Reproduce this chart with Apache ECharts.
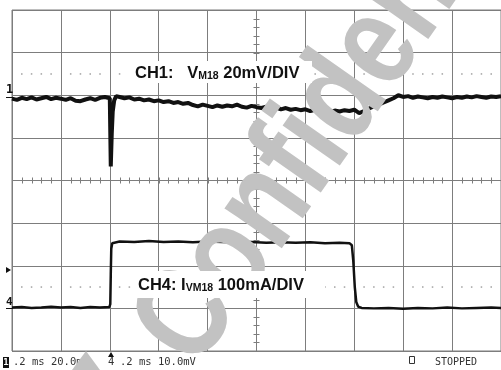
<!DOCTYPE html>
<html>
<head>
<meta charset="utf-8">
<script src="https://cdn.jsdelivr.net/npm/echarts@6/dist/echarts.min.js"></script>
<style>
html,body{margin:0;padding:0;background:#fff;}
#c{width:501px;height:370px;}
</style>
</head>
<body>
<div id="c"></div>
<script>
// Time in screen divisions (0.2 ms/div), levels in vertical divisions
var ch1T = [0.0,0.1,0.2,0.3,0.4,0.5,0.6,0.7,0.8,0.9,1.0,1.1,1.2,1.3,1.4,1.5,1.6,1.7,1.8,1.9,2.0,
  2.02,2.04,2.06,2.09,2.13,
  2.2,2.3,2.4,2.5,2.6,2.7,2.8,2.9,3.0,3.1,3.2,3.3,3.4,3.5,3.6,3.7,3.8,3.9,4.0,4.1,4.2,4.3,4.4,4.5,4.6,4.7,4.8,4.9,
  5.0,5.1,5.2,5.3,5.4,5.5,5.6,5.7,5.8,5.9,6.0,6.1,6.2,6.3,6.4,6.5,6.6,6.7,6.8,6.9,7.0,
  7.05,7.1,7.2,7.3,7.4,7.5,7.6,7.7,7.8,7.9,8.0,8.1,8.2,8.3,8.4,8.5,8.6,8.7,8.8,8.9,9.0,9.1,9.2,9.3,9.4,9.5,9.6,9.7,9.8,9.9,10.0];
var ch1V = [1.92,1.89,1.94,1.91,1.95,1.90,1.93,1.96,1.91,1.94,1.92,1.89,1.93,1.87,1.86,1.90,1.93,1.89,1.94,1.96,1.93,
  0.33,1.10,1.62,1.88,1.98,
  1.96,1.93,1.95,1.90,1.92,1.88,1.90,1.86,1.88,1.84,1.86,1.82,1.84,1.80,1.82,1.77,1.74,1.78,1.75,1.72,1.76,1.73,1.76,1.74,1.78,1.73,1.71,1.75,
  1.72,1.70,1.73,1.69,1.71,1.67,1.70,1.66,1.68,1.65,1.67,1.63,1.66,1.62,1.64,1.61,1.64,1.62,1.65,1.63,1.66,
  1.62,1.58,1.63,1.69,1.74,1.78,1.83,1.88,1.93,2.00,1.96,1.98,1.94,1.97,1.95,1.93,1.96,1.94,1.97,1.95,1.93,1.96,1.94,1.97,1.95,1.98,1.96,1.94,1.97,1.96,1.98];

var ch4T = [0.0,0.2,0.4,0.6,0.8,1.0,1.2,1.4,1.6,1.8,1.99,
  2.01,2.02,2.03,2.05,2.08,
  2.2,2.5,2.8,3.1,3.4,3.7,4.0,4.3,4.6,4.9,5.2,5.5,5.8,6.1,6.4,6.7,6.9,
  6.95,6.98,7.01,7.04,7.08,7.15,
  7.4,7.7,8.0,8.3,8.6,8.9,9.2,9.5,9.8,10.0];
var ch4I = [-2.98,-2.97,-2.99,-2.98,-2.96,-2.98,-2.97,-2.99,-2.97,-2.98,-2.97,
  -2.9,-2.2,-1.6,-1.47,-1.44,
  -1.43,-1.44,-1.42,-1.44,-1.43,-1.45,-1.43,-1.44,-1.45,-1.44,-1.46,-1.45,-1.46,-1.45,-1.47,-1.46,-1.47,
  -1.52,-1.9,-2.5,-2.85,-2.96,-2.99,
  -3.0,-2.99,-3.01,-2.99,-3.0,-2.98,-3.0,-2.99,-2.98,-2.99];

var ch1Label = ['CH1:', 'V', 'M18', '20mV/DIV'];
var ch4Label = ['CH4:', 'I', 'VM18', '100mA/DIV'];
var status1 = '.2 ms 20.0mV';
var status4 = '.2 ms 10.0mV';
var statusRun = 'STOPPED';
var watermark = 'Confidential';
var dottedLevels = [2.5, -2.5];

function pairs(t, v) { return t.map(function (x, i) { return [x, v[i]]; }); }

// minor graticule tick positions along the centre axes
var minorX = [], minorY = [], dots = [];
for (var i = 0; i <= 50; i++) minorX.push([i / 5, 0]);
for (var j = 0; j <= 40; j++) minorY.push([0, j / 5 - 4]);
dottedLevels.forEach(function (lv) {
  for (var k = 0; k < 50; k++) { if (k % 5 !== 0) dots.push([k / 5, lv]); }
});

var GRID = '#7d7d7d';
var WM = '#c2c2c2';
var LBL = 'bold 16.5px "Liberation Sans", Arial, sans-serif';
var SUB = 'bold 10.5px "Liberation Sans", Arial, sans-serif';
var MONO = '10.5px "DejaVu Sans Mono", monospace';
var chart = echarts.init(document.getElementById('c'), null, {renderer: 'canvas'});
var option = {
  animation: false,
  backgroundColor: '#ffffff',
  grid: {left: 12, top: 10, width: 493, height: 341, show: true, borderColor: GRID, borderWidth: 1},
  xAxis: {type: 'value', min: 0, max: 10, interval: 1,
    axisLine: {show: false}, axisTick: {show: false}, axisLabel: {show: false},
    splitLine: {show: true, lineStyle: {color: GRID, width: 1}}},
  yAxis: {type: 'value', min: -4, max: 4, interval: 1,
    axisLine: {show: false}, axisTick: {show: false}, axisLabel: {show: false},
    splitLine: {show: true, lineStyle: {color: GRID, width: 1}}},
  series: [
    {type: 'custom', silent: true, data: minorX, z: 1,
      renderItem: function (params, api) {
        var p = api.coord([api.value(0), api.value(1)]);
        var x = Math.round(p[0]) + 0.5;
        return {type: 'line', shape: {x1: x, y1: p[1] - 3, x2: x, y2: p[1] + 3}, style: {stroke: GRID, lineWidth: 1}};
      }},
    {type: 'custom', silent: true, data: minorY, z: 1,
      renderItem: function (params, api) {
        var p = api.coord([5, api.value(1)]);
        var y = Math.round(p[1]) + 0.5;
        return {type: 'line', shape: {x1: p[0] - 3, y1: y, x2: p[0] + 3, y2: y}, style: {stroke: GRID, lineWidth: 1}};
      }},
    {type: 'scatter', silent: true, data: dots, symbol: 'rect', symbolSize: 1.5, z: 1,
      itemStyle: {color: '#8a8a8a'}},
    {type: 'line', data: pairs(ch1T, ch1V), showSymbol: false, z: 3,
      lineStyle: {color: '#111', width: 4}},
    {type: 'line', data: pairs(ch4T, ch4I), showSymbol: false, z: 3,
      lineStyle: {color: '#111', width: 2.5}}
  ],
  graphic: [
    {type: 'text', z: 100, x: 166, y: 350, rotation: 55 * Math.PI / 180, scaleX: 0.81, scaleY: 1,
      style: {text: watermark, font: 'bold 132px "Liberation Sans", Arial, sans-serif', fill: WM,
        align: 'left', verticalAlign: 'middle'}},
    {type: 'rect', z: 110, shape: {x: 128, y: 61, width: 184, height: 22}, style: {fill: '#fff'}},
    {type: 'text', z: 111, x: 135, y: 72,
      style: {text: '{b|' + ch1Label[0] + '   ' + ch1Label[1] + '}{s|' + ch1Label[2] + '}{b| ' + ch1Label[3] + '}',
        verticalAlign: 'middle', align: 'left',
        rich: {b: {font: LBL, fill: '#111', lineHeight: 19, verticalAlign: 'bottom'},
               s: {font: SUB, fill: '#111', lineHeight: 19, verticalAlign: 'bottom'}}}},
    {type: 'rect', z: 110, shape: {x: 131, y: 271, width: 194, height: 27}, style: {fill: '#fff'}},
    {type: 'text', z: 111, x: 138, y: 284,
      style: {text: '{b|' + ch4Label[0] + ' ' + ch4Label[1] + '}{s|' + ch4Label[2] + '}{b| ' + ch4Label[3] + '}',
        verticalAlign: 'middle', align: 'left',
        rich: {b: {font: LBL, fill: '#111', lineHeight: 19, verticalAlign: 'bottom'},
               s: {font: SUB, fill: '#111', lineHeight: 19, verticalAlign: 'bottom'}}}},
    // left reference markers
    {type: 'text', z: 50, x: 6, y: 90, style: {text: '1', font: 'bold 12px "DejaVu Sans Mono", monospace', fill: '#111', verticalAlign: 'middle'}},
    {type: 'line', z: 50, shape: {x1: 6, y1: 97.5, x2: 13, y2: 97.5}, style: {stroke: '#111', lineWidth: 1}},
    {type: 'text', z: 50, x: 6, y: 302, style: {text: '4', font: 'bold 11px "DejaVu Sans Mono", monospace', fill: '#111', verticalAlign: 'middle'}},
    {type: 'line', z: 50, shape: {x1: 6, y1: 308.5, x2: 13, y2: 308.5}, style: {stroke: '#111', lineWidth: 1}},
    {type: 'polygon', z: 50, shape: {points: [[6, 267], [11, 270], [6, 273]]}, style: {fill: '#111'}},
    // bottom status line
    {type: 'rect', z: 50, shape: {x: 3, y: 357, width: 6, height: 11}, style: {fill: '#111'}},
    {type: 'text', z: 51, x: 3.2, y: 362.5, style: {text: '1', font: 'bold 9px "DejaVu Sans Mono", monospace', fill: '#fff', verticalAlign: 'middle'}},
    {type: 'text', z: 50, x: 13, y: 362.5, style: {text: status1, font: MONO, fill: '#333', verticalAlign: 'middle'}},
    {type: 'polygon', z: 50, shape: {points: [[108, 357], [111, 352], [114, 357]]}, style: {fill: '#111'}},
    {type: 'text', z: 50, x: 108, y: 362.5, style: {text: '4', font: MONO, fill: '#333', verticalAlign: 'middle'}},
    {type: 'text', z: 50, x: 120, y: 362.5, style: {text: status4, font: MONO, fill: '#333', verticalAlign: 'middle'}},
    {type: 'rect', z: 50, shape: {x: 409.5, y: 356.5, width: 5, height: 7}, style: {fill: 'none', stroke: '#333', lineWidth: 1}},
    {type: 'text', z: 50, x: 435, y: 362.5, style: {text: statusRun, font: '10px "DejaVu Sans Mono", monospace', fill: '#333', verticalAlign: 'middle'}},
    // fragment of a second watermark line reaching into the status row
    {type: 'polygon', z: 60, shape: {points: [[86, 351], [72, 370], [100, 370]]}, style: {fill: WM}}
  ]
};
chart.setOption(option);
</script>
</body>
</html>
